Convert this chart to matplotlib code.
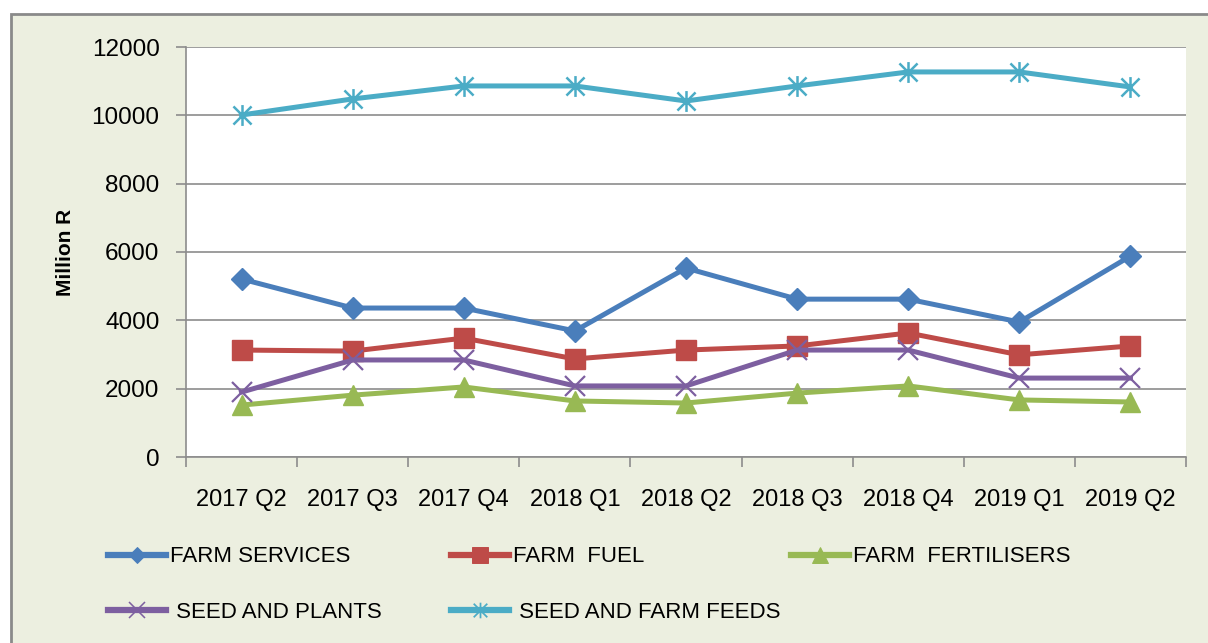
import matplotlib
matplotlib.use("Agg")
import matplotlib.pyplot as plt
from matplotlib.lines import Line2D
from matplotlib.patches import Rectangle
from matplotlib.path import Path

plt.rcParams['font.family'] = ['Liberation Sans', 'DejaVu Sans']

quarters = ["2017 Q2", "2017 Q3", "2017 Q4", "2018 Q1", "2018 Q2",
            "2018 Q3", "2018 Q4", "2019 Q1", "2019 Q2"]
farm_services = [5210, 4360, 4360, 3690, 5530, 4620, 4620, 3950, 5880]
farm_fuel = [3130, 3100, 3480, 2870, 3130, 3250, 3630, 2990, 3250]
farm_fertilisers = [1520, 1810, 2050, 1640, 1580, 1870, 2080, 1670, 1610]
seed_and_plants = [1900, 2840, 2840, 2080, 2080, 3130, 3130, 2310, 2310]
seed_and_feeds = [10010, 10480, 10860, 10860, 10420, 10860, 11270, 11270, 10830]
labels = ["FARM SERVICES", "FARM  FUEL", "FARM  FERTILISERS",
          " SEED AND PLANTS", " SEED AND FARM FEEDS"]
yticks = [0, 2000, 4000, 6000, 8000, 10000, 12000]

# excel style star: an x with a vertical bar through it
star = Path([(-1, -1), (1, 1), (-1, 1), (1, -1), (0, -1.15), (0, 1.15)],
            [Path.MOVETO, Path.LINETO, Path.MOVETO, Path.LINETO,
             Path.MOVETO, Path.LINETO])

series = [
    (farm_services, "#4A7EBB", "D", 11, 1.0),
    (farm_fuel, "#BE4B48", "s", 15, 1.0),
    (farm_fertilisers, "#98B954", "^", 15, 1.0),
    (seed_and_plants, "#7D5FA0", "x", 15, 1.6),
    (seed_and_feeds, "#4BACC6", star, 15, 1.8),
]

fig = plt.figure(figsize=(12.08, 6.43), dpi=100)
fig.patch.set_facecolor("white")
fig.add_artist(Rectangle((11 / 1208, -0.1), 1.2, 1.1 - 14 / 643,
                         transform=fig.transFigure, facecolor="#ECEFE0",
                         edgecolor="#8A8A8A", linewidth=2, zorder=0))

ax = fig.add_axes([186 / 1208, 1 - 457 / 643, 1000 / 1208, 410 / 643])
ax.set_facecolor("white")
x = list(range(len(quarters)))
for (vals, col, mk, ms, mew), lab in zip(series, labels):
    ax.plot(x, vals, color=col, lw=3.6, marker=mk, markersize=ms,
            markeredgewidth=mew, markeredgecolor=col, markerfacecolor=col,
            label=lab, solid_joinstyle="round", zorder=3)

ax.set_xlim(-0.5, len(quarters) - 0.5)
ax.set_ylim(0, 12000)
ax.set_yticks(yticks)
ax.grid(axis="y", color="#8C8C8C", lw=1.2)
ax.set_axisbelow(True)
ax.set_xticks([i - 0.5 for i in range(len(quarters) + 1)])
ax.set_xticklabels([])
ax.set_xticks(x, minor=True)
ax.set_xticklabels(quarters, minor=True)
ax.tick_params(axis="x", which="major", length=7, width=1.2, color="#8C8C8C")
ax.tick_params(axis="x", which="minor", length=0, pad=23, labelsize=17)
ax.tick_params(axis="y", length=7, width=1.2, color="#8C8C8C", pad=12, labelsize=17.5)
for s in ["top", "right"]:
    ax.spines[s].set_visible(False)
for s in ["left", "bottom"]:
    ax.spines[s].set_color("#8C8C8C")
    ax.spines[s].set_linewidth(1.2)
ax.set_ylabel("Million R", fontsize=15, fontweight="bold", labelpad=12)

# legend entries placed like excel's evenly spaced legend
leg_pos = [(108, 557), (451, 557), (791, 557), (108, 612), (451, 612)]
for (vals, col, mk, ms, mew), lab, (px, py) in zip(series, labels, leg_pos):
    h = Line2D([], [], color=col, lw=4.5, marker=mk, markersize=ms * 0.75,
               markeredgewidth=mew * 0.7, markerfacecolor=col, markeredgecolor=col)
    leg = fig.legend(handles=[h], labels=[lab], loc="center left",
                     bbox_to_anchor=(px / 1208, 1 - py / 643), frameon=False,
                     fontsize=16, handlelength=2.6, handletextpad=0.2,
                     borderpad=0, borderaxespad=0)

fig.savefig("out.png", dpi=100, facecolor=fig.get_facecolor())
